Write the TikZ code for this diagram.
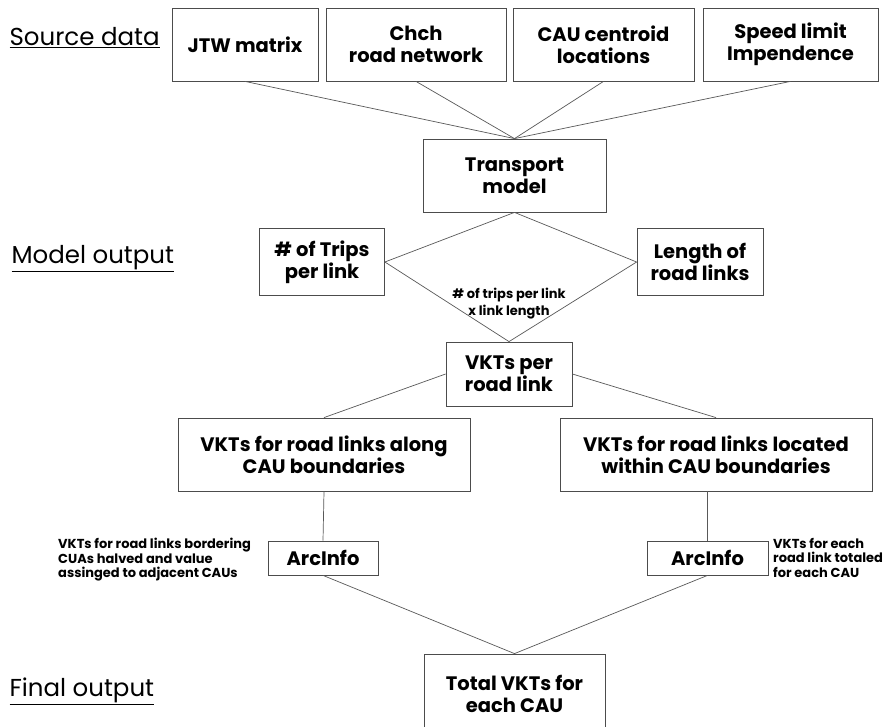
\documentclass[tikz,border=0pt]{standalone}
\usepackage{fontspec}
\setmainfont{Poppins}
\usetikzlibrary{positioning}

\tikzset{
	procbox/.style={rectangle, draw=black!70, line width=0.8pt, text centered, align=center,
		font=\fontsize{19.5}{22}\selectfont\bfseries, inner sep=2pt},
	link/.style={draw=black!65, line width=0.7pt},
	stagelbl/.style={font=\fontsize{24.5}{28}\selectfont, anchor=west},
	note/.style={font=\fontsize{13}{14.5}\selectfont\bfseries, align=left, anchor=north west, inner sep=0pt}
}

\begin{document}
\begin{tikzpicture}[x=1pt, y=-1pt]

	\clip (0,0) rectangle (886,727);
	\fill[white] (0,0) rectangle (886,727);

	%Stages
	\node (SourceLbl) at (6,38) [stagelbl]{\underline{Source data}};
	\node (ModelLbl) at (8,259) [stagelbl]{\underline{Model output}};
	\node (FinalLbl) at (6,691) [stagelbl]{\underline{Final output}};

	%Source boxes
	\node (JTW) at (245,44.5) [procbox, minimum width=146pt, minimum height=73pt]{JTW matrix};
	\node (Chch) at (416,44.5) [procbox, minimum width=180pt, minimum height=73pt]{Chch\\road network};
	\node (Centroid) at (603.5,44.5) [procbox, minimum width=181pt, minimum height=73pt]{CAU centroid\\locations};
	\node (Speed) at (790.5,44.5) [procbox, minimum width=175pt, minimum height=73pt]{Speed limit\\Impendence};

	%Model
	\node (Transport) at (514.5,175.5) [procbox, minimum width=183pt, minimum height=73pt]{Transport\\model};
	\node (Trips) at (322,262) [procbox, minimum width=125pt, minimum height=67pt]{\# of Trips\\per link};
	\node (Length) at (700,262) [procbox, minimum width=126pt, minimum height=67pt]{Length of\\road links};
	\node (Product) at (509,304) [align=center, font=\fontsize{13}{17}\selectfont\bfseries, inner sep=0pt]{\# of trips per link\\x link length};
	\node (VKTs) at (509,374) [procbox, minimum width=126pt, minimum height=64pt]{VKTs per\\road link};

	%Split
	\node (Along) at (324,454.5) [procbox, minimum width=292pt, minimum height=73pt]{VKTs for road links along\\CAU boundaries};
	\node (Within) at (716,454.5) [procbox, minimum width=312pt, minimum height=73pt]{VKTs for road links located\\within CAU boundaries};
	\node (ArcL) at (323,558) [procbox, minimum width=110pt, minimum height=34pt]{ArcInfo};
	\node (ArcR) at (707.5,558) [procbox, minimum width=121pt, minimum height=34pt]{ArcInfo};
	\node (NoteL) at (58,538) [note]{VKTs for road links bordering\\CUAs halved and value\\assinged to adjacent CAUs};
	\node (NoteR) at (773,538) [note]{VKTs for each\\road link totaled\\for each CAU};

	%Final
	\node (Total) at (514.5,694) [procbox, minimum width=181pt, minimum height=80pt]{Total VKTs for\\each CAU};

	%Links
	\draw[link] (JTW.south) -- (Transport.north);
	\draw[link] (Chch.south) -- (Transport.north);
	\draw[link] (Centroid.south) -- (Transport.north);
	\draw[link] (Speed.south) -- (Transport.north);
	\draw[link] (Trips.east) -- (Transport.south) -- (Length.west);
	\draw[link] (Trips.east) -- (VKTs.north) -- (Length.west);
	\draw[link] (Along.north) -- (VKTs.west);
	\draw[link] (Within.north) -- (VKTs.east);
	\draw[link] (Along.south) -- (ArcL.north);
	\draw[link] (ArcR.north) -- (ArcR.north |- Within.south);
	\draw[link] (ArcL.south) -- (Total.north) -- (ArcR.south);

\end{tikzpicture}
\end{document}
